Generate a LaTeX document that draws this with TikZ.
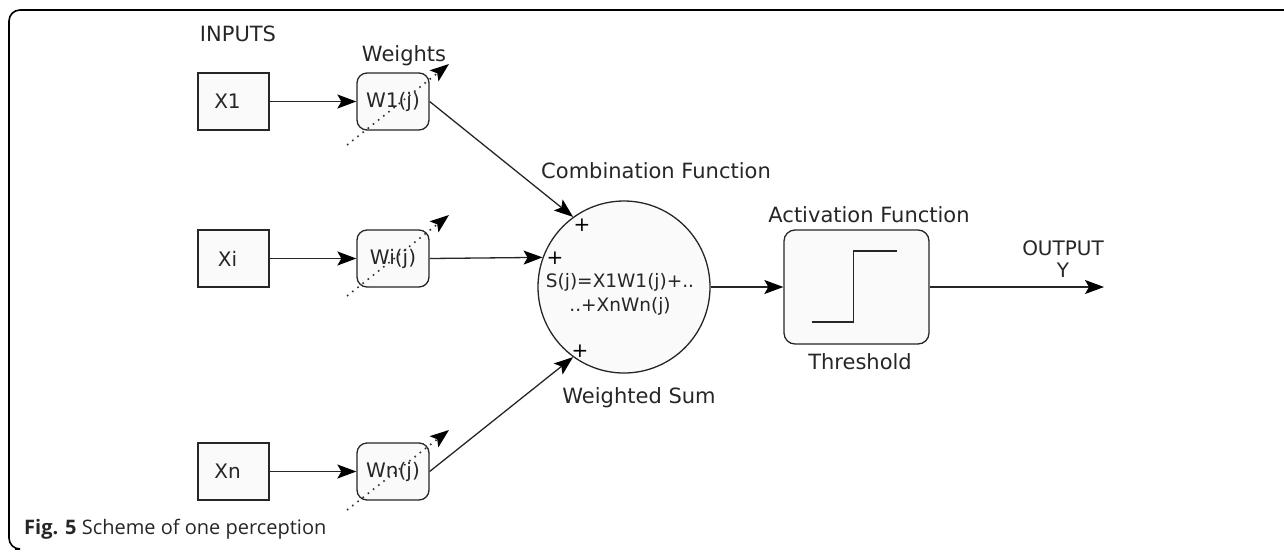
\documentclass[tikz,border=0pt]{standalone}
\usepackage{fontspec}
\setmainfont{DejaVu Sans}
\newfontfamily\capfont{Open Sans}
\usetikzlibrary{arrows.meta,calc}
\begin{document}
\begin{tikzpicture}[x=1pt,y=-1pt,
  lab/.style={font=\fontsize{21}{24}\selectfont, text=black!85, inner sep=0pt},
  inbox/.style={draw=black!85, line width=1.3pt, fill=black!2, minimum width=71pt, minimum height=57pt, inner sep=0pt, font=\fontsize{20}{22}\selectfont, text=black!85},
  wbox/.style={inbox, rounded corners=10pt, minimum width=72pt},
  tip/.style={-{Stealth[length=19pt,width=14pt,inset=4pt,color=black]}},
  conn/.style={line width=1.3pt, draw=black!85, tip},
  dotarr/.style={line width=1.6pt, draw=black!80, dash pattern=on 1.6pt off 5pt, tip},
  plus/.style={font=\fontsize{20}{22}\selectfont, inner sep=0pt}
]
\useasboundingbox (0,0) rectangle (1284,555);
% frame
\draw[line width=1.6pt, rounded corners=11pt] (1290,10) -- (9,10) -- (9,549) -- (15,549);

% labels
\node[lab] (inputs) at (238,34) {INPUTS};
\node[lab] (weights) at (404,56) {Weights};

% inputs
\node[inbox] (x1) at (233.5,101.5) {\hspace*{-12pt}X1};
\node[inbox] (xi) at (233.5,258.5) {\hspace*{-12pt}Xi};
\node[inbox] (xn) at (233.5,471.5) {\hspace*{-12pt}Xn};

% weights
\node[wbox] (w1) at (393,101.5) {W1(j)};
\node[wbox] (wi) at (393,258.5) {Wi(j)};
\node[wbox] (wn) at (393,471.5) {Wn(j)};

% sum circle
\node[circle, draw=black!85, line width=1.3pt, fill=black!2, minimum size=172pt, inner sep=0pt] (sum) at (624,287) {};
\node[lab, align=center, font=\fontsize{18.5}{24}\selectfont] (eq) at (620,294) {S(j)=X1W1(j)+..\\ ..+XnWn(j)};
\node[plus] (p1) at (582,225) {+};
\node[plus] (p2) at (555,258) {+};
\node[plus] (p3) at (580,351) {+};
\node[lab] (comb) at (656,171) {Combination Function};
\node[lab] (wsum) at (639,398) {Weighted Sum};

% activation
\node[inbox, rounded corners=11pt, minimum width=145pt, minimum height=114pt] (act) at (856.5,287) {};
\node[lab] (actl) at (869,215) {Activation Function};
\node[lab] (thr) at (860,362) {Threshold};
\draw[line width=1.3pt, draw=black!85] ($(act.center)+(-45,35)$) -- ($(act.center)+(-3,35)$) -- ($(act.center)+(-3,-36)$) -- ($(act.center)+(40,-36)$);

% output
\coordinate (out) at (1104,287);
\node[lab, align=center, font=\fontsize{20}{22}\selectfont] (outl) at (1063,259) {OUTPUT\\Y};

% connectors
\draw[conn] (x1) -- (w1);
\draw[conn] (xi) -- (wi);
\draw[conn] (xn) -- (wn);
\draw[conn] (w1.east) -- (sum.126);
\draw[conn] (wi.east) -- (sum.160.6);
\draw[conn] (wn.east) -- (sum.234);
\draw[conn] (sum) -- (act);
\draw[conn] (act) -- (out);

% dotted weight arrows
\coordinate (w1s) at (347,145);
\coordinate (w1e) at (449,64);
\coordinate (wis) at (347,296);
\coordinate (wie) at (449,215);
\coordinate (wns) at (347,510);
\coordinate (wne) at (449,430);
\draw[dotarr] (w1s) -- (w1e);
\draw[dotarr] (wis) -- (wie);
\draw[dotarr] (wns) -- (wne);

% caption
\node[anchor=west, inner sep=0pt, font=\capfont\fontsize{20}{22}\selectfont, text=black!85] (cap) at (24,529) {\textbf{Fig. 5} Scheme of one perception};
\end{tikzpicture}
\end{document}
